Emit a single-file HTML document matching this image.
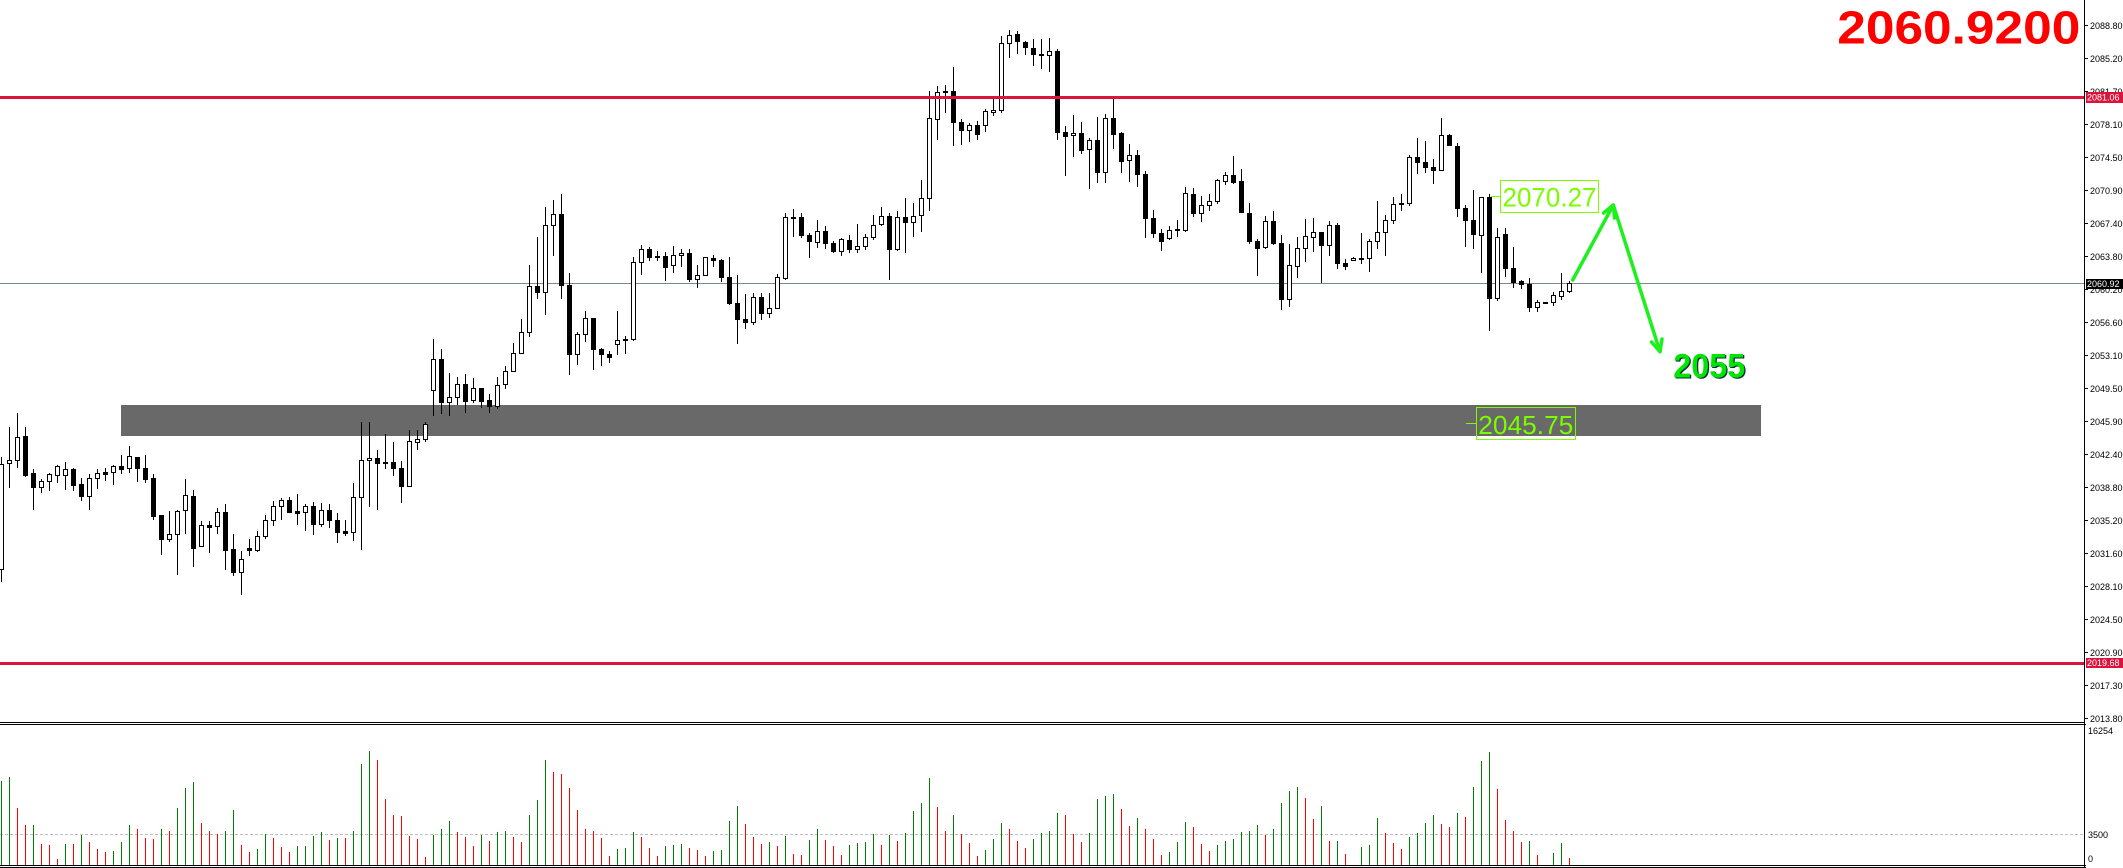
<!DOCTYPE html>
<html><head><meta charset="utf-8">
<style>
html,body{margin:0;padding:0;background:#fff;overflow:hidden;}
svg{display:block;}
text{font-family:"Liberation Sans",Arial,sans-serif;}
</style></head>
<body>
<svg id="c" width="2123" height="868" viewBox="0 0 2123 868" xmlns="http://www.w3.org/2000/svg">
<rect width="2123" height="868" fill="#fff"/>
<!-- support band -->
<rect x="121" y="405" width="1640" height="31" fill="#696969"/>
<!-- current price line -->
<rect x="0" y="283" width="2084" height="1" fill="#7a8794"/>
<g id="cand"></g>
<!-- red horizontal lines -->
<rect x="0" y="96" width="2085" height="3" fill="#dc143c"/>
<rect x="0" y="662" width="2085" height="3" fill="#dc143c"/>
<!-- volume -->
<line x1="0" y1="834.5" x2="2084" y2="834.5" stroke="#c0c0c0" stroke-width="1" stroke-dasharray="3,2"/>
<g id="vol"></g>
<!-- frame lines -->
<rect x="2084" y="0" width="1" height="868" fill="#000"/>
<rect x="0" y="722" width="2085" height="1" fill="#000"/>
<rect x="0" y="724" width="2086" height="1" fill="#000"/>
<rect x="0" y="865" width="2086" height="1" fill="#000"/>
<rect x="0" y="867" width="2086" height="1" fill="#000"/>
<!-- price axis -->
<g id="axis" font-size="9" fill="#000"></g>
<!-- axis labels boxes -->
<rect x="2086" y="92" width="37" height="11" fill="#dc143c"/>
<text x="2087" y="100.5" font-size="9" fill="#fff">2081.06</text>
<rect x="2086" y="658" width="37" height="10" fill="#dc143c"/>
<text x="2087" y="666" font-size="9" fill="#fff">2019.68</text>
<rect x="2086" y="279" width="37" height="10" fill="#000"/>
<text x="2087" y="287" font-size="9" fill="#fff">2060.92</text>
<!-- volume axis labels -->
<text x="2088" y="734" font-size="9" fill="#000">16254</text>
<text x="2088" y="838" font-size="9" fill="#000">3500</text>
<text x="2088" y="862" font-size="9" fill="#000">0</text>
<!-- annotations -->
<line x1="1491" y1="196.5" x2="1500" y2="196.5" stroke="#7cfc00" stroke-width="1"/>
<rect x="1500.5" y="180.5" width="98" height="32" fill="none" stroke="#7cfc00" stroke-width="1"/>
<text x="1502.5" y="206.7" font-size="27" fill="#7cfc00" textLength="94" lengthAdjust="spacingAndGlyphs">2070.27</text>
<line x1="1466" y1="423.5" x2="1476" y2="423.5" stroke="#7cfc00" stroke-width="1"/>
<rect x="1476.5" y="407.5" width="99" height="32" fill="none" stroke="#7cfc00" stroke-width="1"/>
<text x="1478.3" y="434" font-size="26" fill="#7cfc00" textLength="95" lengthAdjust="spacingAndGlyphs">2045.75</text>
<!-- arrows -->
<g stroke="#1ef01e" stroke-width="3.5" fill="none" stroke-linecap="round" stroke-linejoin="round">
<polyline points="1572.7,280 1613.3,205 1660,351.7"/>
<polyline points="1603.5,213 1613.3,205 1614.5,218"/>
<polyline points="1651.5,342 1660,351.7 1662,339"/>
</g>
<!-- 2055 -->
<text x="1674.5" y="378.5" font-size="34" font-weight="bold" fill="#0a2a40" textLength="72" lengthAdjust="spacingAndGlyphs">2055</text>
<text x="1673.3" y="377.3" font-size="34" font-weight="bold" fill="#00e600" textLength="72" lengthAdjust="spacingAndGlyphs">2055</text>
<!-- title -->
<text x="1837.3" y="43.7" font-size="46" font-weight="bold" fill="#ff0000" textLength="243" lengthAdjust="spacingAndGlyphs">2060.9200</text>
</svg>
<script>
(function(){
var segs=[
[0,380,"w 253 568 232 602,w 241 250 142 320,w 172 241 99 260,b 169 285 142 288,b 280 322 267 386,w 304 322 296 335,w 283 304 280 329,w 259 286 256 305,w 268 286 247 326,b 268 314 265 329,b 313 347 295 359,w 295 347 283 386,w 280 295 268 323,b 277 281 265 299,w 259 277 256 311,b 259 266 226 278,w 229 265 198 275,b 232 265 232 302,b 265 296 226 305,b 295 407 283 416,b 406 476 406 521,w 463 476 394 482,w 394 461 391 581,w 346 391 298 458,b 349 503 331 557,w 436 499 424 499,b 436 440 424 515,w 397 439 385 458,b 397 509 373 566,b 508 575 463 584,w 538 577 514 641,b 505 511 478 526,w 469 511 454 514,w 421 469 406 475,w 379 421 364 436,w 361 379 355 418,b 361 396 352 397,b 394 398 343 431,w 379 397 373 449,b 379 433 367 461,w 391 433 370 437,b 391 421 373 440,b 421 457 400 485,b 454 458 421 464,w 352 457 310 481,w 241 352 127 506,w 235 241 127 377,b 235 250 211 386,b 247 250 163 263,b 247 265 187 284"],
[50,180,"b 865 919 843 965,w 784 919 751 919,w 778 787 751 808,w 733 778 727 784,w 538 631 478 704,b 538 667 508 700,w 652 667 580 704,w 613 652 592 673,b 613 664 583 695,w 625 661 595 667,b 625 664 625 682,b 661 679 643 697,w 616 679 592 685,w 574 613 559 625,w 520 574 490 574,w 457 520 418 520,w 319 457 256 469,b 319 337 172 355,w 136 337 82 403,w 103 136 61 226,b 103 316 43 355,b 316 523 280 583,w 463 523 457 553,w 415 463 394 484,b 415 508 415 568,b 508 523 505 556,b 523 532 514 547,w 481 493 394 523,b 478 480 469 520,w 247 478 232 481,w 208 247 196 283,b 208 232 202 241,b 229 232 214 241,b 229 262 217 301,w 226 256 199 277,w 220 226 208 259,b 220 298 208 304,w 286 298 256 322,w 232 286 232 286,b 235 241 226 259,b 241 292 238 304,b 292 370 232 373,b 370 418 286 490,b 418 427 343 445,w 352 427 340 433,b 352 400 340 418,w 385 400 340 412,w 292 385 283 385,w 112 295 100 298,b 112 115 88 169"],
[100,20,"b 592 646 580 652,b 646 664 640 710,w 634 667 601 682,b 634 670 619 685,b 670 694 664 697,w 658 694 655 706,b 661 688 646 697,w 679 688 613 697,w 652 679 643 688,w 616 652 586 658,w 589 613 562 616,b 589 688 580 778,w 592 688 574 691,b 592 607 535 697,w 589 607 550 649,w 535 586 481 634,w 295 535 214 571,w 217 298 199 358,b 214 217 196 277,b 214 307 142 376,b 307 331 298 373,w 316 331 310 364,b 316 343 304 358,w 274 316 268 334,w 271 277 238 286,w 70 271 49 277,w 46 70 31 112,b 43 64 34 100,b 67 82 64 103,b 85 103 58 136,b 103 106 58 145,w 94 106 55 154,b 94 337 88 358,b 337 349 319 466,w 340 346 286 409,b 340 391 307 400,w 361 388 355 505,b 361 457 292 487,w 295 457 283 487,b 295 343 235 385,b 340 424 337 457,w 406 421 373 484,b 406 463 391 499,b 463 595 454 652,b 595 640 571 652,b 640 664 628 691,w 631 655 619 658,b 628 631 601 649,w 520 631 502 634,b 523 580 505 589"],
[150,100,"w 316 340 289 364,w 304 316 283 331,w 241 304 238 310,w 226 244 217 253,b 226 247 169 250,b 244 337 208 337,b 340 424 310 430,b 424 445 418 526,w 364 442 349 445,b 364 430 334 433,b 430 598 406 628,w 496 598 433 619,w 445 499 412 532,w 409 445 358 484,w 397 412 355 454,b 397 436 397 547,w 376 436 364 466,b 376 490 370 505,b 490 499 478 508,w 475 481 472 481,b 475 477 400 490,w 424 475 418 514,w 397 424 304 445,w 361 397 346 466,w 313 361 292 370,b 310 313 283 331,w 172 310 166 316,b 172 187 115 220,b 187 202 124 217,b 202 211 178 250,w 106 211 55 211,b 106 136 103 136,b 139 325 130 349,b 325 361 316 439,b 361 403 271 445,w 292 406 292 517,b 292 595 283 691,w 412 595 385 601,b 403 505 385 529,b 505 547 442 562,b 544 553 541 565,b 553 622 535 634,w 607 622 601 634,b 607 610 607 610,w 586 607 577 616,w 574 589 520 598,w 550 574 544 577"]
];
var s="";
segs.forEach(function(sg){
  var k=sg[0],off=sg[1];
  sg[2].split(",").forEach(function(c){
    var p=c.trim().split(/\s+/);
    var t=p[0],a=+p[1],b=+p[2],h=+p[3],l=+p[4];
    var top=Math.round(off+a/3),bot=Math.round(off+b/3),hi=Math.round(off+h/3),lo=Math.round(off+l/3);
    var x=1.5+8*k;
    if(lo>hi) s+='<line x1="'+x+'" y1="'+hi+'" x2="'+x+'" y2="'+(lo+1)+'" stroke="#000" stroke-width="1"/>';
    var hh=Math.max(bot-top,1);
    s+='<rect x="'+(8*k-0.5)+'" y="'+(top+0.5)+'" width="4" height="'+hh+'" fill="'+(t=="b"?"#000":"#fff")+'" stroke="#000" stroke-width="1"/>';
    k++;
  });
});
document.getElementById("cand").innerHTML=s;

var vs=[
[0,"g138 g126 r219 r270 g270 r327 r330 r372 g327 r327 g300 r321 r342 r351 g348 g321 g270 r282 r309 r312 g282 r288 g219 g159 g141 r264 r288 r297 g288 g225 r330 r351 g342 g297 r309 r336 r351 g333 g333 g303 g291 r315 g309 r309 g288 g87 g48 r75 r192 r240 r243 r303 r312 r366 g300 g282 g258 r291 r306 r333 g300 r318 g291 g288 r306 r321 g240"],
[67,"g195 g75 r111 r117 r159 r225 r282 r288 r309 r363 g342 g339 g291 r306 r339 r363 g333 g330 g327 r339 r345 r363 g348 g345 g258 g213 r267 r306 r327 g321 r333 g303 r357 r360 g315 g282 r315 r333 r360 g330 g324 g321 g297 r330 g300 r318 g294 g228 g204 g129 r216 r288 g240 r297 r324 r363 g345 g312 g264 r282 r318 r339 g312 g294 g288 g234"],
[133,"r240 r297 r321 g294 g192 g183 g177 r222 r273 g249 r282 r312 r360 g351 g321 g261 r276 r327 r348 g330 g318 g312 g291 g288 g270 r300 g282 g204 g168 g156 r189 r252 g213 r318 g318 r357 n g336 g330 g249 r294 r324 r342 g306 g294 g264 g240 r267 r276 g234 r246 g156 g78 g51 r162 r255 r288 r321 g318 r360 n g354 g324 r369"]
];
var v="";
vs.forEach(function(sg){
  var k=sg[0];
  sg[1].split(/\s+/).forEach(function(c){
    if(c!="n"){
      var col=c[0]=="g"?"#008000":"#ff0000";
      var top=Math.round(735+(+c.slice(1))/3);
      v+='<rect x="'+(1+8*k)+'" y="'+top+'" width="1" height="'+(865-top)+'" fill="'+col+'"/>';
    }
    k++;
  });
});
document.getElementById("vol").innerHTML=v;

var labels=["2088.80","2085.20","2081.70","2078.10","2074.50","2070.90","2067.40","2063.80","2060.20","2056.60","2053.10","2049.50","2045.90","2042.40","2038.80","2035.20","2031.60","2028.10","2024.50","2020.90","2017.30","2013.80"];
var a="";
labels.forEach(function(L,i){
  var y=25+33*i;
  a+='<rect x="2085" y="'+y+'" width="3" height="1" fill="#000"/>';
  a+='<text x="2090" y="'+(y+4)+'">'+L+'</text>';
});
document.getElementById("axis").innerHTML=a;
})();
</script>
</body></html>
